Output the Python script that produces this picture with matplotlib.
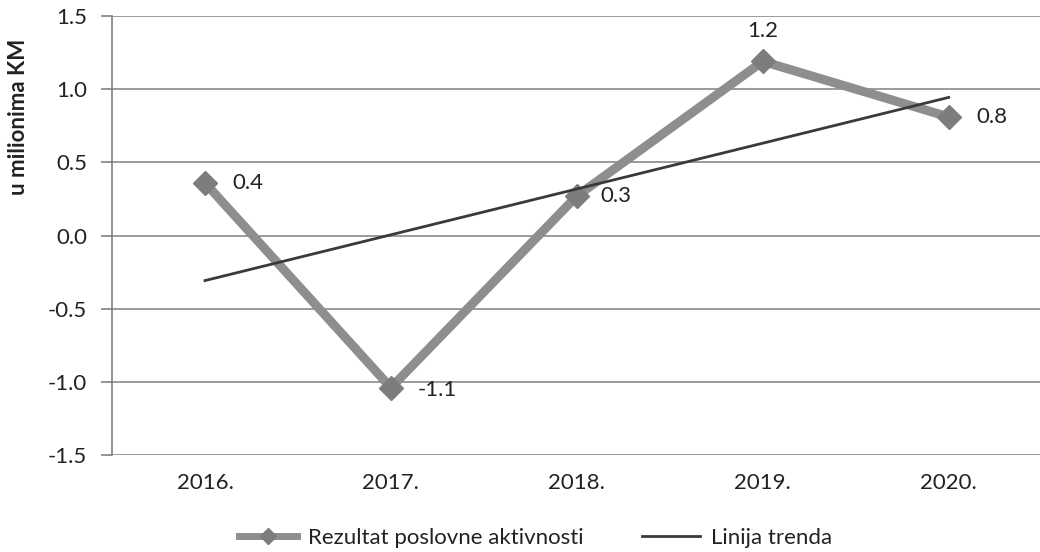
import numpy as np
import matplotlib
matplotlib.use("Agg")
import matplotlib.pyplot as plt
from matplotlib.lines import Line2D

plt.rcParams["font.family"] = ["Lato", "DejaVu Sans"]

years = ["2016.", "2017.", "2018.", "2019.", "2020."]
values = [0.36, -1.04, 0.27, 1.19, 0.81]
value_labels = ["0.4", "-1.1", "0.3", "1.2", "0.8"]

x = np.arange(len(years))
# least-squares trend, as the spreadsheet computes it
slope, intercept = np.polyfit(x, values, 1)
trend = slope * x + intercept

fig = plt.figure(figsize=(10.4, 5.52), dpi=100)
ax = fig.add_axes([0.1077, 0.1757, 0.894, 0.7953])

ax.plot(x, values, color="#8e8e8e", lw=6.5, marker="D", ms=12,
        markerfacecolor="#7d7d7d", markeredgecolor="#7d7d7d",
        solid_capstyle="butt", zorder=3)
ax.plot(x[[0, -1]], trend[[0, -1]], color="#3a3a3a", lw=2, zorder=4)

# data labels
offsets = [(20, 0, "left", "center"), (19, -2, "left", "center"),
           (17, 0, "left", "center"), (0, 22, "center", "center"),
           (20, 0, "left", "center")]
for xi, v, lab, (dx, dy, ha, va) in zip(x, values, value_labels, offsets):
    ax.annotate(lab, (xi, v), xytext=(dx, dy), textcoords="offset points",
                ha=ha, va=va, fontsize=16, color="#222222")

ax.set_xlim(-0.5, 4.5)
ax.set_ylim(-1.5, 1.5)
ax.set_yticks(np.arange(-1.5, 1.51, 0.5))
ax.set_yticklabels([f"{t:.1f}" for t in np.arange(-1.5, 1.51, 0.5)])
ax.set_xticks(x)
ax.set_xticklabels(years)
ax.tick_params(axis="y", length=8, width=1.2, color="#808080", labelsize=16,
               labelcolor="#222222", pad=10)
ax.tick_params(axis="x", length=0, labelsize=16, labelcolor="#222222", pad=13)

ax.grid(axis="y", color="#8a8a8a", lw=1.2)
ax.set_axisbelow(True)
for side in ["top", "right", "bottom"]:
    ax.spines[side].set_visible(False)
ax.spines["left"].set_color("#808080")
ax.spines["left"].set_linewidth(1.2)

ax.set_ylabel("u milionima KM", fontsize=16, fontweight="bold", color="#222222")
ax.yaxis.set_label_coords(-0.089, 0.77)

handles = [
    Line2D([], [], color="#8e8e8e", lw=5, marker="D", ms=8,
           markerfacecolor="#7d7d7d", markeredgecolor="#7d7d7d"),
    Line2D([], [], color="#3a3a3a", lw=2),
]
fig.legend(handles, ["Rezultat poslovne aktivnosti", "Linija trenda"],
           loc="center", bbox_to_anchor=(0.515, 0.026), ncol=2, frameon=False,
           fontsize=16, handlelength=2.6, handletextpad=0.5, columnspacing=2.6,
           labelcolor="#222222")

fig.savefig("out.png", dpi=100)
